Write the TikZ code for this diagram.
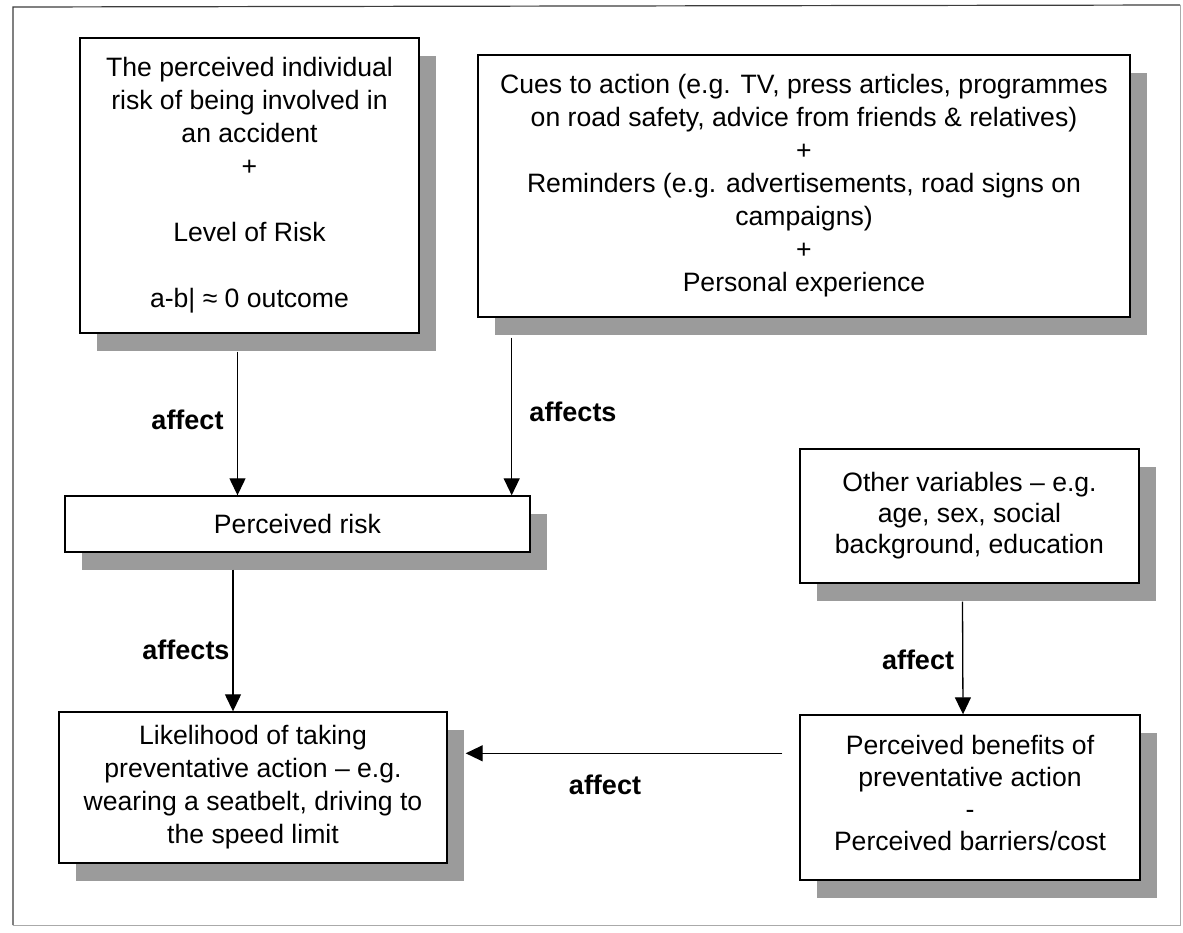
\documentclass[tikz,border=0pt]{standalone}
\usepackage{fontspec}
\setmainfont{Liberation Sans}
\usetikzlibrary{shadows,calc,arrows.meta}
\definecolor{shgray}{RGB}{155,155,155}
\definecolor{framedark}{RGB}{60,60,60}
\definecolor{framelight}{RGB}{170,170,170}
\tikzset{
  box/.style={draw=black, line width=1.4pt, fill=white, inner sep=0pt, align=center,
    font=\fontsize{26.6}{33}\selectfont,
    drop shadow={shadow xshift=17pt, shadow yshift=-18pt, fill=shgray, opacity=1}},
  arr/.style={line width=1.3pt, -{Triangle[length=17pt,width=16pt]}},
  lbl/.style={font=\bfseries\fontsize{27}{30}\selectfont, inner sep=0pt}
}
\begin{document}
\begin{tikzpicture}[x=1pt,y=-1pt]
\useasboundingbox (0,0) rectangle (1183,932);
% frame
\draw[framedark, line width=1.2pt] (13,925) -- (13,7) -- (1180,5);
\draw[framelight, line width=1pt] (1180,5) -- (1180,925) -- (13,925);
% boxes
\node[box, minimum width=339pt, minimum height=295pt] (b1) at (249.5,185.5)
  {The perceived individual\\risk of being involved in\\an accident\\+\\[33pt]Level of Risk\\[33pt]a-b| ≈ 0 outcome};
\node[box, minimum width=652pt, minimum height=262pt] (b2) at (804,186)
  {Cues to action (e.g. TV, press articles, programmes\\on road safety, advice from friends \& relatives)\\+\\Reminders (e.g. advertisements, road signs on\\campaigns)\\+\\Personal experience};
\node[box, minimum width=465pt, minimum height=56pt] (b3) at (297.5,524)
  {Perceived risk};
\node[box, minimum width=339pt, minimum height=134pt, font=\fontsize{26.6}{31}\selectfont] (b4) at (969.5,516)
  {Other variables – e.g.\\age, sex, social\\background, education\\[-24pt]\mbox{}};
\node[box, minimum width=388pt, minimum height=151pt] (b5) at (253,787.5)
  {Likelihood of taking\\preventative action – e.g.\\wearing a seatbelt, driving to\\the speed limit};
\node[box, minimum width=340pt, minimum height=165pt, font=\fontsize{26.6}{32}\selectfont] (b6) at (970,797.5)
  {Perceived benefits of\\preventative action\\-\\Perceived barriers/cost\\[-23pt]\mbox{}};
% connectors
\draw[arr] ($(b1.south)+(-12,18)$) -- ($(b1.south |- b3.north)+(-12,0)$);
\draw[arr] ($(b3.north east |- b2.south)+(-19,20)$) -- ($(b3.north east)+(-19,0)$);
\draw[arr] ($(b3.south -| b5.north)+(-20,17)$) -- ($(b5.north)+(-20,0)$);
\draw[arr] ($(b4.south)+(-7,18)$) -- ($(b6.north)+(-7,0)$);
\coordinate (hs) at ($(b6.north west)+(-17,39)$);
\draw[arr] (hs) -- ($(hs -| b5.east)+(18,0)$);
% labels
\node[lbl] (l1) at (187.5,420) {affect};
\node[lbl] (l2) at (573,412) {affects};
\node[lbl] (l3) at (186,650) {affects};
\node[lbl] (l4) at (918,660) {affect};
\node[lbl] (l5) at (605,785) {affect};
\end{tikzpicture}
\end{document}
